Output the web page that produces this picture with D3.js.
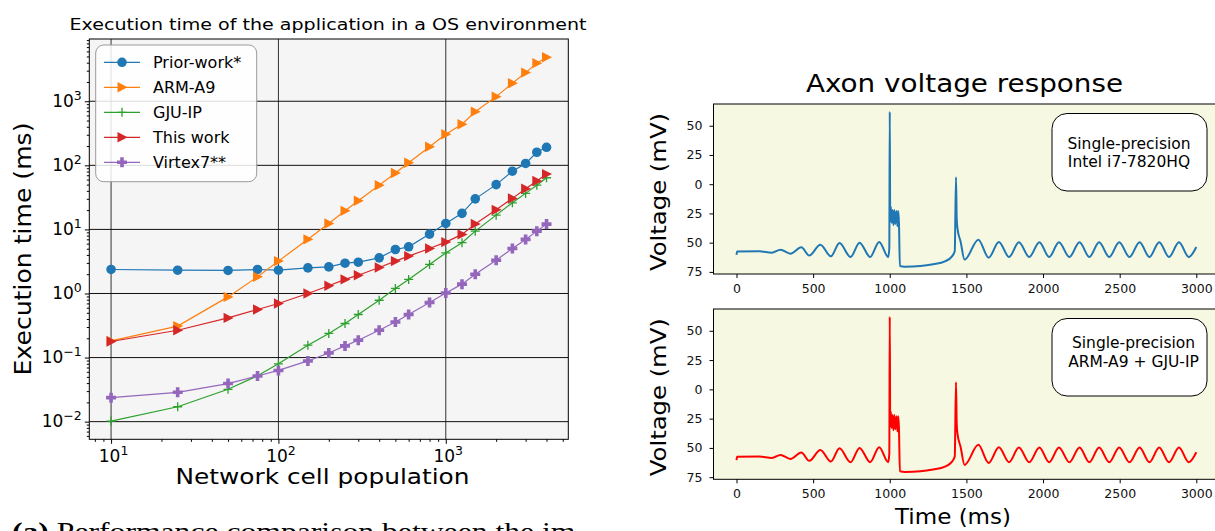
<!DOCTYPE html>
<html>
<head>
<meta charset="utf-8">
<script src="https://cdn.jsdelivr.net/npm/d3@7"></script>
<style>
  body { margin: 0; background: #fff; }
  svg { display: block; font-family: "DejaVu Sans", sans-serif; }
</style>
</head>
<body>
<svg id="chart" width="1215" height="531"></svg>
<script>
// Left: execution time (ms) vs network cell population
const cellPopulation = [10, 25, 50, 75, 100, 150, 200, 250, 300, 400, 500, 600, 800, 1000, 1250, 1500, 2000, 2500, 3000, 3500, 4000];
const priorWork = [2.37, 2.31, 2.29, 2.37, 2.31, 2.51, 2.6, 2.97, 3.08, 3.6, 4.86, 5.35, 8.45, 12.4, 17.8, 30, 50, 81, 107, 160, 191];
const armA9 = [0.182, 0.31, 0.885, 1.82, 3.2, 7.0, 12.4, 19.5, 28, 49, 76, 110, 195, 305, 437, 688, 1180, 1910, 2800, 3930, 4870];
const gjuIp = [0.0102, 0.0171, 0.032, 0.052, 0.08, 0.156, 0.238, 0.34, 0.47, 0.785, 1.2, 1.66, 2.84, 4.3, 6.2, 9.4, 16.7, 26, 36.5, 49, 64];
const thisWork = [0.178, 0.267, 0.416, 0.562, 0.698, 1.0, 1.32, 1.66, 1.93, 2.55, 3.2, 3.83, 5.04, 6.34, 8.36, 12.2, 20.2, 30.5, 43, 57, 73];
const virtex7 = [0.0237, 0.0287, 0.0393, 0.0515, 0.063, 0.0886, 0.118, 0.152, 0.186, 0.267, 0.36, 0.47, 0.724, 1.02, 1.4, 2.0, 3.3, 5.05, 6.98, 9.4, 12.1];
const seriesNames = ['Prior-work*', 'ARM-A9', 'GJU-IP', 'This work', 'Virtex7**'];
const xMajorTicks = [10, 100, 1000];
const yMajorTicks = [0.01, 0.1, 1, 10, 100, 1000];

// Right: axon voltage traces (ms, mV)
const timeMs = [0, 4, 150, 231, 287, 352, 423, 475, 547, 616, 672, 744, 803, 872, 931, 990, 997, 1000, 1003, 1007, 1012, 1018, 1024, 1030, 1036, 1044, 1050, 1055, 1060, 1066, 1100, 1200, 1283, 1360, 1406, 1424, 1432, 1437, 1442, 1462, 1488, 1578, 1645, 1712, 1778, 1843, 1910, 1976, 2040, 2104, 2172, 2238, 2302, 2366, 2432, 2497, 2564, 2630, 2694, 2758, 2822, 2887, 2951, 3000];
const voltageIntel = [-60.5, -57.5, -57.3, -58.6, -56.0, -59.4, -54.0, -61.0, -51.7, -61.7, -50.3, -62.2, -50.0, -62.2, -49.4, -62.2, -55, 62, -32, -19, -33, -22, -35, -22, -34, -23, -36, -23, -33, -70, -70.5, -70, -68.5, -66, -61.7, -57.4, 6, -30, -38, -49, -64.5, -47.4, -62.8, -49.4, -62.2, -49.6, -62.2, -49.6, -62.2, -49.6, -62.2, -49.6, -62.2, -49.6, -62.2, -49.6, -62.2, -49.6, -62.2, -49.6, -62.2, -49.6, -62.2, -53.7];
const voltageArm = [-60.5, -57.5, -57.3, -58.6, -56.0, -59.4, -54.0, -61.0, -51.7, -61.7, -50.3, -62.2, -50.0, -62.2, -49.4, -62.2, -55, 62, -32, -19, -33, -22, -35, -22, -34, -23, -36, -23, -33, -70, -70.5, -70, -68.5, -66, -61.7, -57.4, 6, -30, -38, -49, -64.5, -47.4, -62.8, -49.4, -62.2, -49.6, -62.2, -49.6, -62.2, -49.6, -62.2, -49.6, -62.2, -49.6, -62.2, -49.6, -62.2, -49.6, -62.2, -49.6, -62.2, -49.6, -62.2, -53.7];
const timeTicks = [0, 500, 1000, 1500, 2000, 2500, 3000];
const voltageTicks = [50, 25, 0, -25, -50, -75];

const svg = d3.select('#chart');
svg.append('rect').attr('width', 1215).attr('height', 531).attr('fill', '#fff');

// ---------- left chart ----------
const colors = ['#1f77b4', '#ff7f0e', '#2ca02c', '#d62728', '#9467bd'];
const series = [priorWork, armA9, gjuIp, thisWork, virtex7];

function padLog(ext) {
  const lo = Math.log10(ext[0]), hi = Math.log10(ext[1]), p = 0.05 * (hi - lo);
  return [Math.pow(10, lo - p), Math.pow(10, hi + p)];
}

const L = { left: 89.3, right: 568.3, top: 39, bottom: 439.3 };
const xL = d3.scaleLog().domain(padLog(d3.extent(cellPopulation))).range([L.left, L.right]);
const yL = d3.scaleLog().domain(padLog(d3.extent(series.flat()))).range([L.bottom, L.top]);

const gL = svg.append('g');
gL.append('rect')
  .attr('x', L.left).attr('y', L.top)
  .attr('width', L.right - L.left).attr('height', L.bottom - L.top)
  .attr('fill', '#f5f5f5');

// grid
gL.selectAll('.vgrid').data(xMajorTicks).enter().append('line')
  .attr('x1', d => xL(d)).attr('x2', d => xL(d))
  .attr('y1', L.top).attr('y2', L.bottom)
  .attr('stroke', '#333').attr('stroke-width', 1);
gL.selectAll('.hgrid').data(yMajorTicks).enter().append('line')
  .attr('x1', L.left).attr('x2', L.right)
  .attr('y1', d => yL(d)).attr('y2', d => yL(d))
  .attr('stroke', '#111').attr('stroke-width', 1);

// marker shapes
function marker(sel, i, color) {
  if (i === 0) {
    sel.append('circle').attr('r', 4.8).attr('fill', color);
  } else if (i === 1 || i === 3) {
    sel.append('path').attr('d', 'M-4.5,-5.2L5.5,0L-4.5,5.2Z').attr('fill', color);
  } else if (i === 2) {
    sel.append('path').attr('d', 'M-4.5,0H4.5M0,-4.5V4.5').attr('stroke', color).attr('stroke-width', 1.3).attr('fill', 'none');
  } else {
    sel.append('path').attr('d', 'M-1.8,-5H1.8V-1.8H5V1.8H1.8V5H-1.8V1.8H-5V-1.8H-1.8Z').attr('fill', color);
  }
}

const line = d3.line().x(d => xL(d[0])).y(d => yL(d[1]));
series.forEach((vals, i) => {
  const pts = cellPopulation.map((c, j) => [c, vals[j]]);
  gL.append('path').datum(pts)
    .attr('d', line).attr('fill', 'none')
    .attr('stroke', colors[i]).attr('stroke-width', 1.2);
  gL.selectAll('.m' + i).data(pts).enter().append('g')
    .attr('transform', d => `translate(${xL(d[0])},${yL(d[1])})`)
    .each(function() { marker(d3.select(this), i, colors[i]); });
});

// spines
gL.append('rect')
  .attr('x', L.left).attr('y', L.top)
  .attr('width', L.right - L.left).attr('height', L.bottom - L.top)
  .attr('fill', 'none').attr('stroke', '#000').attr('stroke-width', 1);

// minor ticks
function minorTicks(scale) {
  const [a, b] = scale.domain();
  const out = [];
  for (let e = Math.floor(Math.log10(a)); e <= Math.ceil(Math.log10(b)); e++) {
    for (let k = 2; k <= 9; k++) {
      const v = k * Math.pow(10, e);
      if (v >= a && v <= b) out.push(v);
    }
  }
  return out;
}
function supLabel(text, d) {
  const e = Math.round(Math.log10(d));
  text.text('');
  text.append('tspan').text('10');
  text.append('tspan').attr('dy', -7).attr('font-size', 12.5).text(e < 0 ? '\u2212' + (-e) : e);
}

const xAxisL = gL.append('g').attr('transform', `translate(0,${L.bottom})`);
xAxisL.call(d3.axisBottom(xL).tickValues(minorTicks(xL)).tickSize(2.5).tickFormat(''));
xAxisL.call(g => g.select('.domain').remove());
const xAxisL2 = gL.append('g').attr('transform', `translate(0,${L.bottom})`);
xAxisL2.call(d3.axisBottom(xL).tickValues(xMajorTicks).tickSize(4.5));
xAxisL2.select('.domain').remove();
xAxisL2.selectAll('.tick text')
  .attr('font-size', 17).attr('font-family', 'DejaVu Sans').attr('fill', '#000')
  .attr('y', 22.4).attr('dy', 0).attr('dx', 2)
  .each(function(d) { supLabel(d3.select(this), d); });

const yAxisL = gL.append('g').attr('transform', `translate(${L.left},0)`);
yAxisL.call(d3.axisLeft(yL).tickValues(minorTicks(yL)).tickSize(2.5).tickFormat(''));
yAxisL.select('.domain').remove();
const yAxisL2 = gL.append('g').attr('transform', `translate(${L.left},0)`);
yAxisL2.call(d3.axisLeft(yL).tickValues(yMajorTicks).tickSize(4.5).tickPadding(3));
yAxisL2.select('.domain').remove();
yAxisL2.selectAll('.tick text')
  .attr('font-size', 17).attr('font-family', 'DejaVu Sans').attr('fill', '#000')
  .attr('dy', 5)
  .each(function(d) { supLabel(d3.select(this), d); });
svg.selectAll('.tick line').attr('stroke', '#000');

// titles
svg.append('text')
  .attr('x', 328).attr('y', 30)
  .attr('text-anchor', 'middle')
  .attr('font-size', 16.5)
  .attr('textLength', 517).attr('lengthAdjust', 'spacingAndGlyphs')
  .text('Execution time of the application in a OS environment');
svg.append('text')
  .attr('x', 322.5).attr('y', 484)
  .attr('text-anchor', 'middle')
  .attr('font-size', 22)
  .attr('textLength', 294).attr('lengthAdjust', 'spacingAndGlyphs')
  .text('Network cell population');
svg.append('text')
  .attr('transform', 'translate(30.5,249) rotate(-90)')
  .attr('text-anchor', 'middle')
  .attr('font-size', 23)
  .attr('textLength', 253).attr('lengthAdjust', 'spacingAndGlyphs')
  .text('Execution time (ms)');

// legend
const leg = svg.append('g');
leg.append('rect')
  .attr('x', 95.7).attr('y', 45).attr('width', 161).attr('height', 136.7)
  .attr('rx', 8).attr('fill', '#fff').attr('fill-opacity', 0.85)
  .attr('stroke', '#999').attr('stroke-width', 1);
seriesNames.forEach((name, i) => {
  const y = 62.3 + i * 25;
  leg.append('line').attr('x1', 104).attr('x2', 140).attr('y1', y).attr('y2', y)
    .attr('stroke', colors[i]).attr('stroke-width', 1.2);
  const m = leg.append('g').attr('transform', `translate(122,${y})`);
  marker(m, i, colors[i]);
  leg.append('text').attr('x', 153).attr('y', y + 5.8)
    .attr('font-size', 16).text(name);
});

// ---------- right charts ----------
const xR = d3.scaleLinear().domain([-150, 3150]).range([713.5, 1219.3]);
const vDomain = [-76.8, 68.6];

function voltagePanel(top, bottom, volts, color, boxTop, lines, lineYs, textX) {
  const y = d3.scaleLinear().domain(vDomain).range([bottom, top]);
  const g = svg.append('g');
  g.append('rect')
    .attr('x', xR.range()[0]).attr('y', top)
    .attr('width', xR.range()[1] - xR.range()[0]).attr('height', bottom - top)
    .attr('fill', '#f7f8e1').attr('stroke', '#000').attr('stroke-width', 1);

  const pts = timeMs.map((t, i) => [t, volts[i]]);
  g.append('path').datum(pts)
    .attr('d', d3.line().x(d => xR(d[0])).y(d => y(d[1])).curve(d3.curveMonotoneX))
    .attr('fill', 'none').attr('stroke', color).attr('stroke-width', 2);

  const xa = g.append('g').attr('transform', `translate(0,${bottom})`)
    .call(d3.axisBottom(xR).tickValues(timeTicks).tickSize(4).tickPadding(6).tickFormat(d3.format('d')));
  xa.select('.domain').remove();
  const ya = g.append('g').attr('transform', `translate(${xR.range()[0]},0)`)
    .call(d3.axisLeft(y).tickValues(voltageTicks).tickSize(4).tickPadding(7).tickFormat(d => Math.abs(d)));
  ya.select('.domain').remove();
  g.selectAll('.tick text').attr('font-size', 12.5).attr('font-family', 'DejaVu Sans').attr('fill', '#111');
  g.selectAll('.tick line').attr('stroke', '#000');

  g.append('text')
    .attr('transform', `translate(666,${(top + bottom) / 2 + 3}) rotate(-90)`)
    .attr('text-anchor', 'middle').attr('font-size', 22)
    .attr('textLength', 158).attr('lengthAdjust', 'spacingAndGlyphs')
    .text('Voltage (mV)');

  g.append('rect')
    .attr('x', 1052).attr('y', boxTop).attr('width', 155).attr('height', 77.5)
    .attr('rx', 15).attr('fill', '#fff').attr('stroke', '#000').attr('stroke-width', 1);
  lines.forEach((s, i) => {
    g.append('text').attr('x', textX).attr('y', lineYs[i])
      .attr('text-anchor', 'middle').attr('font-size', 15.5).text(s);
  });
}

voltagePanel(104, 274, voltageIntel, '#1f77b4', 113.5,
  ['Single-precision', 'Intel i7-7820HQ'], [148.8, 167.3], 1129);
voltagePanel(309, 479.3, voltageArm, '#ff0000', 318.5,
  ['Single-precision', 'ARM-A9 + GJU-IP'], [348.3, 367.3], 1133.5);

svg.append('text')
  .attr('x', 964.5).attr('y', 91.7)
  .attr('text-anchor', 'middle').attr('font-size', 24)
  .attr('textLength', 317).attr('lengthAdjust', 'spacingAndGlyphs')
  .text('Axon voltage response');
svg.append('text')
  .attr('x', 953).attr('y', 524)
  .attr('text-anchor', 'middle').attr('font-size', 22)
  .attr('textLength', 116).attr('lengthAdjust', 'spacingAndGlyphs')
  .text('Time (ms)');

// caption (cut off at the bottom edge)
const cap = svg.append('text')
  .attr('x', 12).attr('y', 540)
  .attr('font-family', '"Liberation Serif", serif').attr('font-size', 25)
  .attr('textLength', 574).attr('lengthAdjust', 'spacingAndGlyphs');
cap.append('tspan').attr('font-weight', 'bold').text('(a)');
cap.append('tspan').text(' Performance comparison between the im-');
</script>
</body>
</html>
